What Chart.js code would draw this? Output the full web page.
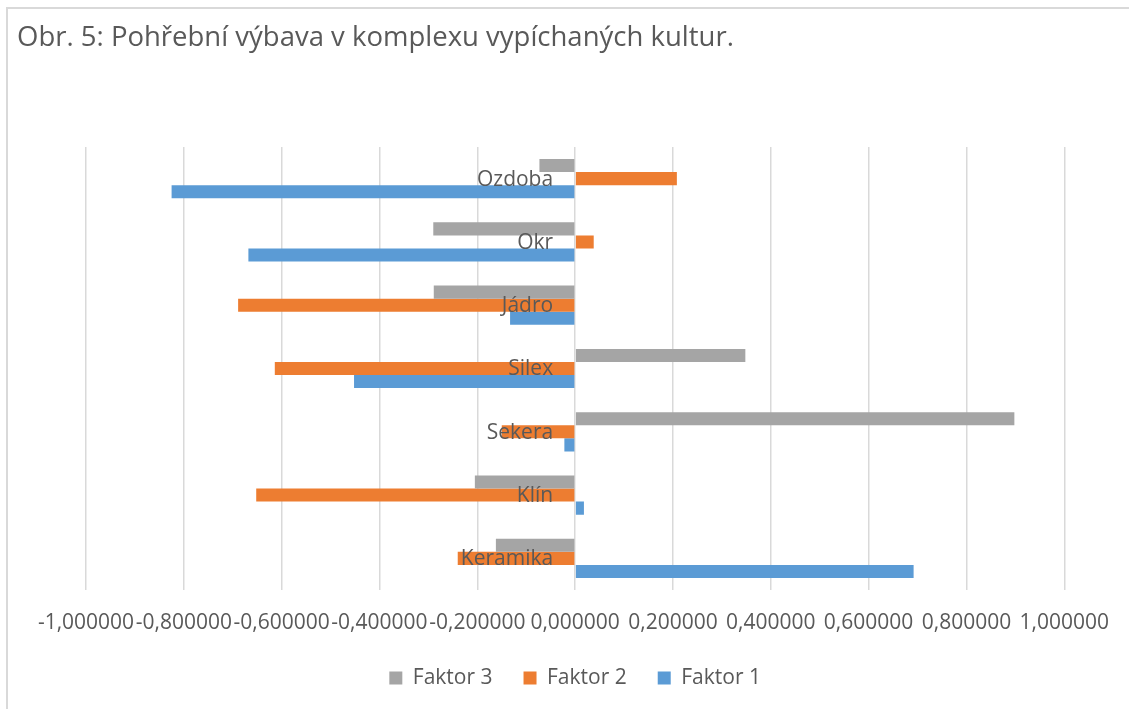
<!DOCTYPE html>
<html>
<head>
<meta charset="utf-8">
<script src="https://cdn.jsdelivr.net/npm/chart.js@4.4.0/dist/chart.umd.min.js"></script>
<style>
  html, body { margin: 0; padding: 0; background: #fff; }
  #wrap { position: relative; width: 1129px; height: 709px; overflow: hidden; }
  #frame { position: absolute; left: 6px; top: 7px; width: 1200px; height: 800px;
           border-left: 2px solid #d9d9d9; border-top: 2px solid #d9d9d9; }
  canvas { position: absolute; left: 0; top: 0; }
</style>
</head>
<body>
<div id="wrap">
  <div id="frame"></div>
  <canvas id="chart" width="1129" height="709"></canvas>
</div>
<script>
// categories from top to bottom
const categories = ["Ozdoba", "Okr", "Jádro", "Silex", "Sekera", "Klín", "Keramika"];
const faktor3 = [-0.073, -0.290, -0.289, 0.348, 0.898, -0.205, -0.162];
const faktor2 = [0.208, 0.038, -0.689, -0.614, -0.150, -0.652, -0.240];
const faktor1 = [-0.825, -0.668, -0.133, -0.452, -0.022, 0.018, 0.692];
const xMin = -1, xMax = 1, xStep = 0.2;

const textColor = "#595959";
const fontFamily = "'Open Sans', sans-serif";

// Excel style: category names sit next to the zero line
const axisLabels = {
  id: "axisLabels",
  afterDatasetsDraw(chart) {
    const { ctx, scales } = chart;
    const x0 = scales.x.getPixelForValue(0);
    ctx.save();
    ctx.font = "21px " + fontFamily;
    ctx.fillStyle = textColor;
    ctx.textAlign = "right";
    ctx.textBaseline = "middle";
    categories.forEach((name, i) => {
      ctx.fillText(name, x0 - 22, scales.y.getPixelForValue(i) + 1);
    });
    ctx.restore();
  }
};

new Chart(document.getElementById("chart"), {
  type: "bar",
  data: {
    labels: categories,
    datasets: [
      { label: "Faktor 3", data: faktor3, backgroundColor: "#A5A5A5" },
      { label: "Faktor 2", data: faktor2, backgroundColor: "#ED7D31" },
      { label: "Faktor 1", data: faktor1, backgroundColor: "#5B9BD5" }
    ]
  },
  options: {
    indexAxis: "y",
    responsive: false,
    animation: false,
    categoryPercentage: 0.62,
    barPercentage: 1,
    layout: { padding: { left: 17, right: 64, top: 0, bottom: 10.5 } },
    scales: {
      x: {
        min: xMin,
        max: xMax,
        grid: { color: "#d9d9d9", lineWidth: 1.5, drawTicks: false },
        border: { display: false },
        ticks: {
          stepSize: xStep,
          autoSkip: false,
          maxRotation: 0,
          padding: 20,
          color: textColor,
          font: { family: fontFamily, size: 21 },
          callback: (v) => Number(v).toFixed(6).replace(".", ",")
        },
        afterFit: (s) => { s.height = 46.5; }
      },
      y: {
        grid: { display: false },
        border: { display: false },
        ticks: { display: false },
        afterFit: (s) => { s.width = 69; }
      }
    },
    plugins: {
      title: {
        display: true,
        text: "Obr. 5: Pohřební výbava v komplexu vypíchaných kultur.",
        align: "start",
        color: textColor,
        font: { family: fontFamily, size: 27.5, weight: "normal" },
        padding: { top: 22, bottom: 92 }
      },
      legend: {
        position: "bottom",
        fullSize: false,
        labels: {
          color: textColor,
          font: { family: fontFamily, size: 21 },
          boxWidth: 13,
          boxHeight: 13,
          padding: 31
        }
      },
      tooltip: { enabled: false }
    }
  },
  plugins: [axisLabels]
});
</script>
</body>
</html>
